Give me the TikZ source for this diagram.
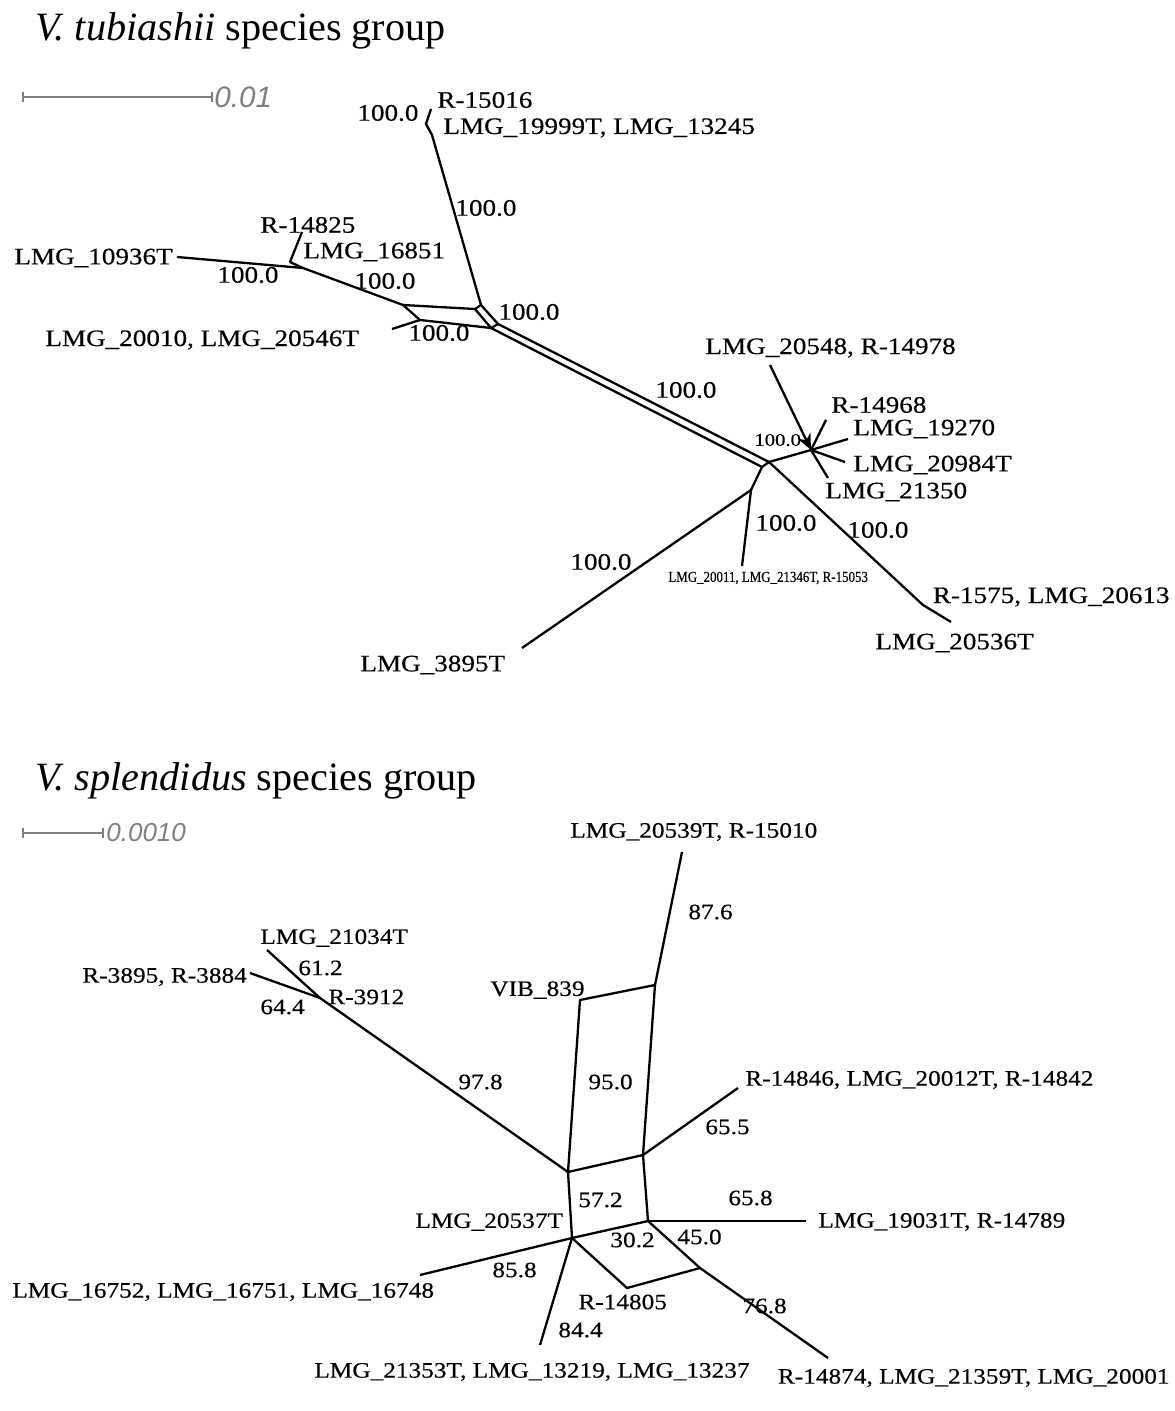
\documentclass[tikz,border=0pt]{standalone}
\usepackage{fontspec}
\setmainfont{Liberation Serif}
\newfontfamily\taxonfont{Liberation Serif}[FakeStretch=1.15, FakeBold=0.4]
\newfontfamily\narrowfont{Liberation Serif}[FakeStretch=0.85, FakeBold=0.3]
\newfontfamily\barfont{Liberation Sans}
\usetikzlibrary{arrows.meta}

\tikzset{
  branch/.style={line width=1.15pt, line join=round},
  scalebar/.style={gray, line width=0.8pt, {Bar[width=5pt]}-{Bar[width=5pt]}},
  barlabel/.style={anchor=west, inner sep=0pt, gray, font=\barfont\itshape\fontsize{13}{14}\selectfont},
  heading/.style={anchor=base west, inner sep=0pt, font=\fontsize{20.1}{22}\selectfont},
  taxon/.style={anchor=west, inner sep=0pt, font=\taxonfont\fontsize{11.8}{12}\selectfont},
  taxonb/.style={anchor=west, inner sep=0pt, font=\taxonfont\fontsize{11}{12}\selectfont},
  boot/.style={taxon},
  bootb/.style={taxonb},
}

\begin{document}
\begin{tikzpicture}[x=0.5pt, y=-0.5pt]
\useasboundingbox (0,0) rectangle (1174,1411);
% ---------------- V. tubiashii ----------------
\node[heading] (headT) at (35,41) {\textit{V. tubiashii} species group};
\coordinate (barTa) at (22,97);
\coordinate (barTb) at (213,97);
\draw[scalebar] (barTa) -- (barTb);
\node[barlabel, font=\barfont\itshape\fontsize{14.8}{15}\selectfont] (barTl) at (214,97) {0.01};
% tree points
\coordinate (r15016) at (431,109);
\coordinate (kinkT) at (426,124);
\coordinate (lmg19999) at (432,135);
\coordinate (boxUb) at (481,305);
\coordinate (boxUa) at (475,309);
\coordinate (boxLa) at (491,328);
\coordinate (boxLb) at (498,324);
\coordinate (boxL) at (403,305);
\coordinate (boxLo) at (420,320);
\coordinate (lmg20010) at (392,329);
\coordinate (j16851) at (303,268);
\coordinate (k14825) at (290,262);
\coordinate (r14825) at (302,232);
\coordinate (lmg10936) at (177,257);
\coordinate (nodeA) at (762,467);
\coordinate (nodeB) at (769,462);
\coordinate (clus) at (811,450);
\coordinate (r14968) at (826,420);
\coordinate (lmg19270) at (848,439);
\coordinate (lmg20984) at (845,462);
\coordinate (lmg21350) at (828,478);
\coordinate (tail20548) at (770,365);
\coordinate (split3895) at (751,490);
\coordinate (lmg3895) at (522,648);
\coordinate (lmg20011) at (742,566);
\coordinate (r1575) at (923,605);
\coordinate (lmg20536) at (951,622);
% branches
\draw[branch] (r15016) -- (kinkT) -- (lmg19999) -- (boxUb);
\draw[branch] (lmg10936) -- (j16851) -- (boxL) -- (boxUa);
\draw[branch] (j16851) -- (k14825) -- (r14825);
\draw[branch] (boxL) -- (boxLo) -- (boxLa);
\draw[branch] (lmg20010) -- (boxLo);
\draw[branch] (boxUa) -- (boxUb) -- (boxLb) -- (boxLa) -- cycle;
\draw[branch] (boxLa) -- (nodeA) -- (nodeB) -- (boxLb);
\draw[branch] (nodeB) -- (clus);
\draw[branch] (clus) -- (r14968);
\draw[branch] (clus) -- (lmg19270);
\draw[branch] (clus) -- (lmg20984);
\draw[branch] (clus) -- (lmg21350);
\draw[branch, -{Stealth[length=8pt, width=7pt]}] (tail20548) -- (clus);
\draw[branch] (nodeA) -- (split3895) -- (lmg3895);
\draw[branch] (split3895) -- (lmg20011);
\draw[branch] (nodeB) -- (r1575) -- (lmg20536);
% labels
\node[boot] (bT1) at (357,113) {100.0};
\node[taxon] (tR15016) at (437,100) {R-15016};
\node[taxon] (tL19999) at (443,128) {LMG\_19999T, LMG\_13245};
\node[boot] (bT2) at (455,208) {100.0};
\node[taxon] (tR14825) at (260,225) {R-14825};
\node[taxon] (tL16851) at (303,252) {LMG\_16851};
\node[taxon] (tL10936) at (14,258) {LMG\_10936T};
\node[boot] (bT3) at (217,275) {100.0};
\node[boot] (bT4) at (354,281) {100.0};
\node[boot] (bT5) at (498,312) {100.0};
\node[taxon] (tL20010) at (45,340) {LMG\_20010, LMG\_20546T};
\node[boot] (bT6) at (408,333) {100.0};
\node[taxon] (tL20548) at (705,348) {LMG\_20548, R-14978};
\node[boot] (bT7) at (655,390) {100.0};
\node[taxon] (tR14968) at (831,405) {R-14968};
\node[taxon] (tL19270) at (853,429) {LMG\_19270};
\node[boot, font=\taxonfont\fontsize{9}{10}\selectfont] (bT8) at (754,440) {100.0};
\node[taxon] (tL20984) at (853,465) {LMG\_20984T};
\node[taxon] (tL21350) at (825,492) {LMG\_21350};
\node[boot] (bT9) at (755,523) {100.0};
\node[boot] (bT10) at (847,530) {100.0};
\node[boot] (bT11) at (570,562) {100.0};
\node[anchor=west, inner sep=0pt, font=\narrowfont\fontsize{7.6}{8}\selectfont] (tL20011) at (668,578) {LMG\_20011, LMG\_21346T, R-15053};
\node[taxon, anchor=east] (tR1575) at (1170,597) {R-1575, LMG\_20613};
\node[taxon] (tL20536) at (875,643) {LMG\_20536T};
\node[taxon] (tL3895) at (360,665) {LMG\_3895T};

% ---------------- V. splendidus ----------------
\node[heading] (headS) at (35,790) {\textit{V. splendidus} species group};
\coordinate (barSa) at (22,833);
\coordinate (barSb) at (104,833);
\draw[scalebar] (barSa) -- (barSb);
\node[barlabel] (barSl) at (106,833) {0.0010};
% tree points
\coordinate (lmg20539) at (682,852);
\coordinate (topR) at (655,985);
\coordinate (vib839) at (580,1000);
\coordinate (midL) at (568,1172);
\coordinate (midR) at (643,1155);
\coordinate (r14846) at (738,1088);
\coordinate (j3912) at (320,998);
\coordinate (lmg21034) at (267,950);
\coordinate (r3895) at (250,973);
\coordinate (lowL) at (572,1238);
\coordinate (lowR) at (648,1221);
\coordinate (lmg19031) at (806,1221);
\coordinate (lmg16752) at (420,1275);
\coordinate (lmg21353) at (540,1345);
\coordinate (r14805) at (627,1288);
\coordinate (k45) at (700,1268);
\coordinate (r14874) at (828,1358);
% branches
\draw[branch] (lmg20539) -- (topR) -- (vib839) -- (midL) -- (midR) -- (topR);
\draw[branch] (midR) -- (r14846);
\draw[branch] (lmg21034) -- (j3912) -- (midL);
\draw[branch] (r3895) -- (j3912);
\draw[branch] (midL) -- (lowL) -- (lowR) -- (midR);
\draw[branch] (lowR) -- (lmg19031);
\draw[branch] (lowL) -- (lmg16752);
\draw[branch] (lowL) -- (lmg21353);
\draw[branch] (lowL) -- (r14805) -- (k45) -- (lowR);
\draw[branch] (k45) -- (r14874);
% labels
\node[taxonb] (sL20539) at (570,832) {LMG\_20539T, R-15010};
\node[bootb] (bS1) at (688,912) {87.6};
\node[taxonb] (sV839) at (490,990) {VIB\_839};
\node[bootb] (bS2) at (588,1082) {95.0};
\node[taxonb] (sR14846) at (745,1080) {R-14846, LMG\_20012T, R-14842};
\node[bootb] (bS3) at (705,1127) {65.5};
\node[bootb] (bS4) at (458,1082) {97.8};
\node[taxonb] (sL21034) at (260,938) {LMG\_21034T};
\node[taxonb] (sR3895) at (82,977) {R-3895, R-3884};
\node[bootb] (bS5) at (298,968) {61.2};
\node[taxonb] (sR3912) at (328,997) {R-3912};
\node[bootb] (bS6) at (260,1007) {64.4};
\node[bootb] (bS7) at (578,1200) {57.2};
\node[taxonb] (sL20537) at (415,1222) {LMG\_20537T};
\node[bootb] (bS8) at (492,1270) {85.8};
\node[taxonb] (sL16752) at (12,1292) {LMG\_16752, LMG\_16751, LMG\_16748};
\node[bootb] (bS9) at (558,1330) {84.4};
\node[taxonb] (sL21353) at (314,1372) {LMG\_21353T, LMG\_13219, LMG\_13237};
\node[taxonb] (sR14805) at (578,1302) {R-14805};
\node[bootb] (bS10) at (610,1240) {30.2};
\node[bootb] (bS11) at (677,1237) {45.0};
\node[bootb] (bS12) at (742,1306) {76.8};
\node[taxonb, anchor=east] (sR14874) at (1170,1378) {R-14874, LMG\_21359T, LMG\_20001};
\node[bootb] (bS13) at (728,1198) {65.8};
\node[taxonb] (sL19031) at (818,1222) {LMG\_19031T, R-14789};
\end{tikzpicture}
\end{document}
